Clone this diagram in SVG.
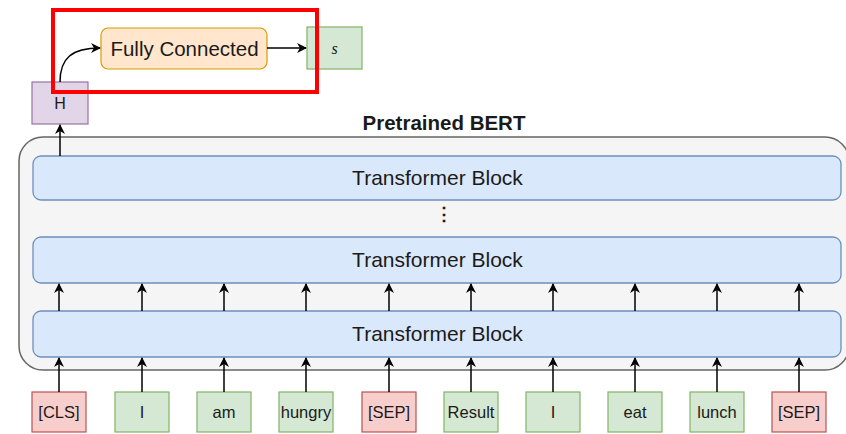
<svg xmlns="http://www.w3.org/2000/svg" width="846" height="434" viewBox="0 0 846 434">
<defs>
<marker id="ah" viewBox="0 0 10 10" refX="9" refY="5" markerWidth="10" markerHeight="10" markerUnits="userSpaceOnUse" orient="auto">
<path d="M0,0 L10,5 L0,10 L3,5 Z" fill="#000"/>
</marker>
<style>
text{font-family:"Liberation Sans",Arial,sans-serif;fill:#1a1a1a;text-anchor:middle;dominant-baseline:central}
.blk{fill:#dae8fc;stroke:#6c8ebf;stroke-width:1.3}
.red{fill:#f8cecc;stroke:#b85450;stroke-width:1.2}
.grn{fill:#d5e8d4;stroke:#82b366;stroke-width:1.2}
.bt{font-size:21px}
.tk{font-size:16.5px}
.c line,.c path{stroke:#000;stroke-width:1.5;fill:none;marker-end:url(#ah)}
</style>
</defs>
<rect width="846" height="434" fill="#fff"/>
<g id="container">
<rect x="19" y="137" width="830" height="233" rx="24" fill="#f5f5f5" stroke="#666" stroke-width="1.5"/>
<text x="444" y="122" style="font-size:20.5px;font-weight:bold">Pretrained BERT</text>
</g>
<g id="block-top"><rect class="blk" x="33" y="156" width="808" height="44" rx="8"/><text class="bt" x="437.5" y="177.5">Transformer Block</text></g>
<g id="dots"><text x="444" y="214" style="font-size:18px;font-weight:bold">⋮</text></g>
<g id="block-mid"><rect class="blk" x="33" y="237" width="808" height="46" rx="8"/><text class="bt" x="437.5" y="259.5">Transformer Block</text></g>
<g id="block-bot"><rect class="blk" x="33" y="311" width="808" height="46" rx="8"/><text class="bt" x="437.5" y="333.5">Transformer Block</text></g>
<g id="H"><rect x="32" y="82" width="56" height="42" fill="#e1d5e7" stroke="#9673a6" stroke-width="1.2"/><text x="60" y="103" style="font-size:16px">H</text></g>
<g id="fc"><rect x="101" y="28" width="166" height="41" rx="7" fill="#ffe6cc" stroke="#d79b00" stroke-width="1.2"/><text x="184.5" y="48.5" style="font-size:20.5px">Fully Connected</text></g>
<g id="s"><rect class="grn" x="307" y="27" width="55" height="42"/><text x="334.5" y="48" style="font-family:'Liberation Serif',serif;font-style:italic;font-size:16px">s</text></g>
<g id="t0"><rect class="red" x="32" y="392" width="54" height="40"/><text class="tk" x="59" y="412">[CLS]</text></g>
<g id="t1"><rect class="grn" x="115" y="392" width="54" height="40"/><text class="tk" x="142" y="412">I</text></g>
<g id="t2"><rect class="grn" x="197" y="392" width="54" height="40"/><text class="tk" x="224" y="412">am</text></g>
<g id="t3"><rect class="grn" x="279" y="392" width="54" height="40"/><text class="tk" x="306" y="412">hungry</text></g>
<g id="t4"><rect class="red" x="362" y="392" width="54" height="40"/><text class="tk" x="389" y="412">[SEP]</text></g>
<g id="t5"><rect class="grn" x="444" y="392" width="54" height="40"/><text class="tk" x="471" y="412">Result</text></g>
<g id="t6"><rect class="grn" x="526" y="392" width="54" height="40"/><text class="tk" x="553" y="412">I</text></g>
<g id="t7"><rect class="grn" x="608" y="392" width="54" height="40"/><text class="tk" x="635" y="412">eat</text></g>
<g id="t8"><rect class="grn" x="690" y="392" width="54" height="40"/><text class="tk" x="717" y="412">lunch</text></g>
<g id="t9"><rect class="red" x="772" y="392" width="54" height="40"/><text class="tk" x="799" y="412">[SEP]</text></g>
<g id="connectors" class="c">
<line x1="60" y1="156" x2="60" y2="125"/>
<path d="M60,82 C60,58 72,48 100,48"/>
<line x1="267" y1="48" x2="306" y2="48"/>
<line x1="59" y1="392" x2="59" y2="358"/><line x1="142" y1="392" x2="142" y2="358"/><line x1="224" y1="392" x2="224" y2="358"/><line x1="306" y1="392" x2="306" y2="358"/><line x1="389" y1="392" x2="389" y2="358"/><line x1="471" y1="392" x2="471" y2="358"/><line x1="553" y1="392" x2="553" y2="358"/><line x1="635" y1="392" x2="635" y2="358"/><line x1="717" y1="392" x2="717" y2="358"/><line x1="799" y1="392" x2="799" y2="358"/>
<line x1="59" y1="311" x2="59" y2="284"/><line x1="142" y1="311" x2="142" y2="284"/><line x1="224" y1="311" x2="224" y2="284"/><line x1="306" y1="311" x2="306" y2="284"/><line x1="389" y1="311" x2="389" y2="284"/><line x1="471" y1="311" x2="471" y2="284"/><line x1="553" y1="311" x2="553" y2="284"/><line x1="635" y1="311" x2="635" y2="284"/><line x1="717" y1="311" x2="717" y2="284"/><line x1="799" y1="311" x2="799" y2="284"/>
</g>
<g id="highlight"><rect x="53" y="10" width="264" height="82" fill="none" stroke="#ff0000" stroke-width="4"/></g>
</svg>
